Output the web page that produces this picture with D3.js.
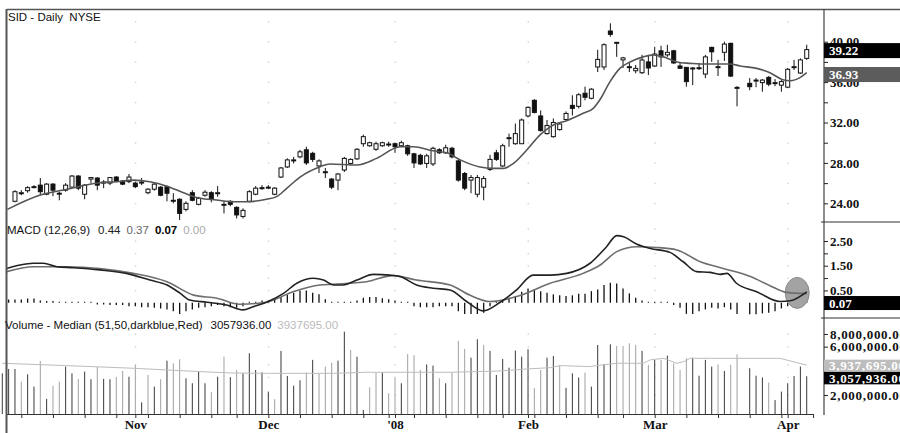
<!DOCTYPE html>
<html><head><meta charset="utf-8">
<script src="https://cdn.jsdelivr.net/npm/d3@7/dist/d3.min.js"></script>
<style>body{margin:0;background:#fff}svg{display:block}text{white-space:pre}</style>
</head><body>
<svg id="c" width="900" height="433"></svg>
<script>
// ---------- categories (trading-day slots; Good Friday slot kept empty) ----------
const firstDay = "2007-10-03", lastDay = "2008-04-04";
const holidays = ["2007-11-22","2007-12-25","2008-01-01","2008-01-21","2008-02-18"];
const monthLabels = ["Nov","Dec","'08","Feb","Mar","Apr"];

// ---------- price (OHLC) ----------
const open  = [null,null,24.2,25.05,25.25,25.65,25.8,24.9,25.9,25.0,25.3,25.6,26.7,24.9,26.4,26.5,26.1,26.0,26.6,26.2,26.15,26.0,26.1,25.05,25.4,25.6,25.65,24.3,24.4,23.4,25.05,23.9,24.8,25.05,25.05,23.9,24.2,23.6,22.7,24.2,24.9,25.55,25.6,24.9,26.6,27.6,28.3,28.6,29.3,28.95,27.7,27.13,26.4,26.3,27.3,27.95,28.4,29.9,29.7,29.35,29.7,29.87,29.9,29.7,29.7,28.9,28.75,27.95,27.9,29.3,29.0,29.45,28.2,26.95,26.3,24.9,25.6,27.36,29.0,27.7,30.5,29.9,29.9,32.65,34.2,32.65,30.9,30.6,31.3,32.3,33.7,33.6,34.9,34.4,37.5,37.5,41.06,39.94,38.2,37.53,37.13,36.93,38.0,37.6,39.1,38.7,39.1,37.6,37.46,37.4,37.43,36.8,39.44,37.53,38.95,39.84,35.48,null,35.88,36.2,35.95,36.47,35.95,35.7,35.5,37.53,36.9,38.35];
const high  = [null,null,25.3,25.3,25.7,25.8,26.5,26.0,26.0,25.15,26.0,26.8,26.8,25.9,26.6,26.6,26.3,26.6,26.7,26.3,26.9,26.15,26.5,25.5,26.0,25.7,25.75,25.0,24.5,24.2,25.3,24.65,25.3,25.2,25.7,24.2,24.3,23.7,23.5,25.3,25.7,25.8,25.8,25.6,27.6,28.45,28.6,29.3,29.6,29.1,28.35,27.5,26.5,27.0,28.6,28.45,29.45,30.8,30.1,30.1,30.1,30.1,30.0,30.2,29.8,29.0,28.9,28.9,29.6,29.45,29.8,29.6,28.35,27.1,26.8,26.8,26.7,28.8,29.3,29.9,30.9,31.9,32.4,33.6,34.3,33.2,32.25,32.4,32.0,33.1,34.7,34.9,35.55,35.4,39.2,39.85,41.82,39.94,38.5,38.0,37.7,38.7,38.7,39.5,39.6,39.7,39.2,37.9,37.5,37.5,37.9,38.7,39.5,38.2,40.0,39.9,35.6,null,36.4,36.4,36.3,36.6,36.3,36.2,37.4,38.2,38.35,39.7];
const low   = [null,null,24.1,24.8,25.05,25.5,24.8,24.8,24.7,24.3,25.15,25.5,25.3,24.4,26.0,25.3,25.5,25.8,26.1,25.8,26.0,25.5,25.8,24.9,25.25,24.7,24.2,24.0,22.35,23.2,24.2,23.8,24.65,24.1,24.65,23.0,23.7,22.5,22.5,24.1,24.8,25.35,25.4,24.8,26.5,27.5,27.95,28.45,27.8,28.1,27.0,26.5,25.4,25.3,27.1,27.8,28.3,29.6,29.6,29.2,29.6,29.6,29.0,29.55,28.7,27.5,27.8,27.5,27.7,28.9,28.9,28.45,26.15,25.3,25.0,24.6,24.3,27.2,28.2,27.6,29.6,29.8,29.9,32.5,32.9,31.1,30.8,30.5,31.2,32.2,32.7,33.4,34.2,34.3,37.0,37.2,40.5,38.5,37.4,37.0,36.87,36.8,36.7,37.5,37.5,38.5,37.8,37.3,35.55,35.7,37.2,36.4,38.0,36.6,38.1,36.5,33.6,null,35.2,35.5,35.05,35.6,35.6,35.05,35.4,37.2,36.8,38.2];
const close = [null,null,25.15,25.05,25.55,25.65,25.15,25.9,25.3,25.0,25.8,26.7,25.5,25.8,26.55,25.8,26.1,26.55,26.2,25.9,26.6,25.65,26.1,25.4,25.9,24.8,25.0,24.3,23.0,24.0,24.3,24.5,25.1,24.4,25.05,23.9,23.9,22.85,23.3,25.15,25.5,25.55,25.6,25.5,27.5,28.3,28.3,29.1,28.0,28.35,28.2,27.13,25.6,26.9,28.45,28.35,29.35,30.6,30.0,29.9,30.0,29.87,29.6,30.0,28.9,28.0,27.9,28.7,29.45,29.0,29.5,28.6,26.3,25.5,26.55,26.55,26.45,28.35,28.35,29.7,30.5,30.9,32.25,33.5,33.0,31.2,31.7,32.0,31.85,32.9,33.4,34.75,34.5,35.3,38.25,39.7,40.73,39.94,38.4,37.53,37.36,38.19,37.4,38.78,38.5,38.95,37.9,37.37,36.05,37.4,37.43,38.5,39.0,37.53,39.77,36.6,35.48,null,35.55,36.2,36.2,35.8,35.95,36.05,37.27,37.53,38.2,39.22];

// moving average (sampled along the line: slot position, value)
const maPos = [0.8,6,10.2,15.4,18.1,20.7,23.3,26,28.6,31.2,33.8,36.5,38.6,41.7,43.3,44.9,47,50.2,51.7,56,59.1,62.8,64.9,68,70.2,72.3,75.4,77.5,79.1,80.7,82.8,84.9,87,89.1,91.7,93.3,94.4,95.9,97.5,99.1,101.2,102.8,104.4,106.5,108.6,110.2,112.3,114.9,116.5,119.1,121.2,123.1,124.4,126,127];
const maVal = [23.4,24.82,25.4,26.04,26.14,26.3,26.14,25.7,25.05,24.5,24.33,24.16,24.16,24.4,24.66,25.48,26.6,27.63,27.9,27.8,28.45,29.6,29.6,29.2,29.0,28.3,27.6,27.46,27.46,27.96,29.28,30.77,31.76,32.18,32.91,33.4,34.3,36.0,37.36,38.0,38.5,38.7,38.5,38.0,37.86,37.79,37.79,37.79,37.6,37.36,36.93,36.27,36.14,36.47,36.93];

// ---------- MACD ----------
const macdPos = [0.7,2.8,4.9,6.5,8.6,11.2,15.4,19.6,23.3,26,28.1,29.6,32.3,35.4,38,39.6,41.7,44.4,46.5,49.1,50.7,52.3,53.8,56,58.6,61.2,62.8,65.4,68,70.7,73.3,75.9,78.6,81.2,83.8,86.5,89.1,92.8,95.4,97,98.1,100.2,102.3,105.4,107.5,109.6,111.7,113.3,114.4,115.9,119.1,122.8,124.4,127];
const macdVal = [1.39,1.53,1.6,1.6,1.46,1.42,1.33,1.19,0.92,0.72,0.38,0.11,0.02,-0.09,-0.29,-0.16,0.02,0.38,0.79,0.99,0.92,0.72,0.72,0.92,1.15,1.12,1.06,0.72,0.59,0.52,0.05,-0.33,0.02,0.52,1.12,1.12,1.19,1.6,2.27,2.72,2.67,2.37,2.2,2.04,1.66,1.26,1.23,1.15,1.19,0.79,0.45,0.05,0.08,0.44];
const signalPos = [0.7,4.9,10.2,15.4,20.7,26,30.2,33.9,37.5,41.7,45.9,50.2,52.3,57.5,61.7,65.4,70.7,73.8,77,81.2,86.5,91.7,94.4,97,100.2,103.3,106.5,110.2,113.8,118.1,121.2,123.8,127];
const signalVal = [1.26,1.46,1.46,1.39,1.19,0.85,0.31,0.18,-0.06,0.02,0.45,0.72,0.75,0.85,1.10,0.92,0.72,0.31,0.05,0.25,0.79,1.19,1.53,2.07,2.27,2.24,2.14,1.66,1.39,1.06,0.69,0.42,0.37];
const histVal = [null,0.13,0.13,0.13,0.17,0.17,0.09,0.07,0.07,0.02,0.01,-0.04,-0.04,-0.04,-0.04,-0.07,-0.07,-0.09,-0.09,-0.09,-0.14,-0.14,-0.18,-0.18,-0.2,-0.23,-0.27,-0.34,-0.45,-0.34,-0.27,-0.2,-0.18,-0.14,-0.09,-0.14,-0.18,-0.2,-0.14,0.04,0.04,0.09,0.09,0.14,0.23,0.31,0.41,0.5,0.5,0.41,0.34,0.14,0.04,0.01,0.04,0.04,0.09,0.2,0.23,0.23,0.18,0.14,0.09,0.04,-0.02,-0.14,-0.18,-0.18,-0.18,-0.14,-0.14,-0.14,-0.34,-0.45,-0.45,-0.45,-0.4,-0.14,0.04,0.09,0.2,0.27,0.45,0.58,0.54,0.47,0.41,0.34,0.3,0.27,0.3,0.36,0.36,0.47,0.54,0.72,0.81,0.78,0.58,0.38,0.2,0.09,0.01,-0.02,-0.03,-0.04,-0.09,-0.2,-0.45,-0.45,-0.34,-0.27,-0.2,-0.23,-0.18,-0.27,-0.45,null,-0.47,-0.47,-0.43,-0.4,-0.34,-0.23,-0.14,-0.07,0.01,0.07];
const macdLegend = ["0.44","0.37","0.07","0.00"];

// ---------- volume (millions) ----------
const volume = [3.27,3.61,3.61,2.71,3.2,2.42,4.33,1.83,2.47,2.71,3.81,3.27,2.88,3.4,2.86,3.81,2.88,2.86,3.01,3.45,3.03,3.96,1.69,3.15,2.42,2.86,4.36,4.11,4.5,2.92,2.61,3.4,2.61,2.13,3.03,4.78,3.0,3.53,3.27,5.16,3.53,3.35,2.16,1.82,5.44,3.08,2.47,2.79,3.33,4.44,3.25,3.81,4.17,4.36,8.43,5.56,4.78,1.42,2.38,3.33,3.33,2.08,2.96,2.61,5.06,4.93,3.53,4.0,3.9,2.92,2.61,3.35,6.82,5.69,4.67,7.09,6.23,5.44,3.15,4.53,3.72,5.48,4.78,5.65,2.33,3.53,4.67,4.85,3.9,2.35,3.27,2.98,3.33,2.42,6.23,4.03,6.32,6.09,6.09,6.47,6.23,5.44,3.96,4.44,4.44,4.89,4.11,3.53,4.6,4.67,3.1,4.44,3.81,4.0,3.45,3.96,5.04,null,3.67,3.1,2.98,2.65,1.78,2.16,2.61,3.08,3.81,3.06];
const medPos = [0,10,20.7,31.2,36,41.7,52.3,57.5,70.7,78.6,82.8,86.5,88.1,92.8,93.8,97,101.2,102.3,104.4,106.5,107.6,108.6,122.8,124.8,127];
const medVal = [4.11,3.9,3.67,3.4,3.3,3.27,3.27,3.35,3.35,3.45,3.61,3.72,3.9,3.81,3.9,4.11,4.11,4.44,4.6,4.11,4.27,4.6,4.6,4.27,3.94];
const volLegend = ["3057936.00","3937695.00"];

// ---------- ticks ----------
const priceTicks = [24,26,28,30,32,34,36,38,40];
const priceLabelTicks = [24,28,32,36,40];
const macdTicks = [0.5,1.0,1.5,2.0,2.5];
const macdLabelTicks = [0.5,1.5,2.5];
const volTicks = [2e6,4e6,6e6,8e6];
const volLabelTicks = [2e6,6e6,8e6];
const lastPrice = 39.22, lastMA = 36.93, lastHist = 0.07, lastVol = 3057936, lastMed = 3937695;

// ---------- build slots ----------
const fmtD = d3.timeFormat("%Y-%m-%d");
const slots = [];
for (let d = new Date(firstDay+"T12:00:00"); fmtD(d) <= lastDay; d.setDate(d.getDate()+1)) {
  const wd = d.getDay();
  if (wd === 0 || wd === 6 || holidays.includes(fmtD(d))) continue;
  slots.push(new Date(d));
}
const N = slots.length;

const svg = d3.select("#c");
const AX = 824;
const x = d3.scaleLinear().domain([0, N]).range([2.3, 2.3 + N*6.334]);
const yP = d3.scaleLinear().domain([22.15, 43.24]).range([222, 9]);
const yM = d3.scaleLinear().domain([-0.617, 3.27]).range([318, 222]);
const yV = d3.scaleLog().domain([1.298e6, 11.5e6]).range([414, 318]);

const serif = "'Liberation Serif','Times New Roman',serif";
const sans = "'Liberation Sans',Arial,sans-serif";

// month / week ticks
const weekTicks = [], monthTicks = [];
slots.forEach((d,i) => {
  if (i === 0) return;
  const p = slots[i-1];
  if (d.getMonth() !== p.getMonth()) monthTicks.push(i);
  if (d.getDay() < p.getDay() || (d - p) > 3*86400000) weekTicks.push(i);
});
weekTicks.push(N);
const allTicks = Array.from(new Set(weekTicks.concat(monthTicks))).sort((a,b)=>a-b);

// faint grid dots at month positions
const grid = svg.append("g").attr("fill","#d6d6d6");
monthTicks.forEach(mi => {
  priceTicks.concat([42]).forEach(v => grid.append("rect").attr("x", x(mi)-0.5).attr("y", yP(v)-0.5).attr("width",1.5).attr("height",1.5));
  [0,0.5,1,1.5,2,2.5,3].forEach(v => grid.append("rect").attr("x", x(mi)-0.5).attr("y", yM(v)-0.5).attr("width",1.5).attr("height",1.5));
  [2e6,3e6,4e6,6e6,8e6].forEach(v => grid.append("rect").attr("x", x(mi)-0.5).attr("y", yV(v)-0.5).attr("width",1.5).attr("height",1.5));
});

// ---------- price panel ----------
const idx = d3.range(N).filter(i => open[i] != null);
const pg = svg.append("g");
pg.selectAll("line.wick").data(idx).join("line")
  .attr("x1", i => x(i)).attr("x2", i => x(i))
  .attr("y1", i => yP(high[i])).attr("y2", i => yP(low[i]))
  .attr("stroke", "#111").attr("stroke-width", 1);
pg.selectAll("rect.body").data(idx).join("rect")
  .attr("x", i => x(i) - 2).attr("width", 4)
  .attr("y", i => yP(Math.max(open[i], close[i])))
  .attr("height", i => Math.max(1, Math.abs(yP(open[i]) - yP(close[i]))))
  .attr("fill", i => close[i] >= open[i] ? "#fff" : "#111")
  .attr("stroke", "#111").attr("stroke-width", 1);

const maLine = d3.line().x((d,k) => x(maPos[k])).y(d => yP(d)).curve(d3.curveMonotoneX);
svg.append("path").attr("d", maLine(maVal)).attr("fill","none").attr("stroke","#555").attr("stroke-width",1.6);

// ---------- MACD panel ----------
const y0 = yM(0);
svg.append("g").selectAll("line").data(d3.range(N).filter(i => histVal[i] != null)).join("line")
  .attr("x1", i => x(i)).attr("x2", i => x(i))
  .attr("y1", y0).attr("y2", i => Math.abs(yM(histVal[i]) - y0) < 1 ? y0 - 1 : yM(histVal[i]))
  .attr("stroke", "#111").attr("stroke-width", 1.3);

svg.append("ellipse").attr("cx", x(125.5)).attr("cy", yM(0.4)).attr("rx", 12).attr("ry", 15.5)
  .attr("fill", "#a3a3a3").attr("stroke", "#8a8a8a").attr("stroke-width", 1);

const sigLine = d3.line().x((d,k) => x(signalPos[k])).y(d => yM(d)).curve(d3.curveMonotoneX);
svg.append("path").attr("d", sigLine(signalVal)).attr("fill","none").attr("stroke","#6e6e6e").attr("stroke-width",1.6);
const macdLine = d3.line().x((d,k) => x(macdPos[k])).y(d => yM(d)).curve(d3.curveMonotoneX);
svg.append("path").attr("d", macdLine(macdVal)).attr("fill","none").attr("stroke","#222").attr("stroke-width",1.6);

// ---------- volume panel ----------
const vIdx = d3.range(N).filter(i => volume[i] != null);
// previous available close, to tell up-days from down-days
const prevClose = i => { for (let k = i-1; k >= 0; k--) if (close[k] != null) return close[k]; return null; };
svg.append("g").selectAll("line").data(vIdx).join("line")
  .attr("x1", i => x(i)).attr("x2", i => x(i))
  .attr("y1", 414).attr("y2", i => yV(volume[i]*1e6))
  .attr("stroke", i => {
    const pc = prevClose(i);
    return (close[i] != null && pc != null && close[i] < pc) ? "#a0a0a0" : "#383838";
  })
  .attr("stroke-width", 1);
const medLine = d3.line().x((d,k) => x(medPos[k])).y(d => yV(d*1e6));
svg.append("path").attr("d", medLine(medVal)).attr("fill","none").attr("stroke","#bdbdbd").attr("stroke-width",1);

// ---------- frame ----------
svg.append("line").attr("x1",7).attr("x2",900).attr("y1",9.5).attr("y2",9.5).attr("stroke","#555").attr("stroke-width",1.4);
svg.append("line").attr("x1",6.5).attr("x2",6.5).attr("y1",9).attr("y2",433).attr("stroke","#555").attr("stroke-width",2);
svg.append("line").attr("x1",AX).attr("x2",AX).attr("y1",9).attr("y2",415).attr("stroke","#444").attr("stroke-width",1.2);
[222,318].forEach(yy => svg.append("line").attr("x1",AX-3).attr("x2",900).attr("y1",yy).attr("y2",yy).attr("stroke","#333").attr("stroke-width",1));

// ---------- right axes ----------
function rightAxis(scale, ticks, labelTicks, fmt, ls) {
  const g = svg.append("g").attr("transform", `translate(${AX},0)`)
    .call(d3.axisRight(scale).tickValues(ticks).tickSize(4).tickPadding(2)
      .tickFormat(d => labelTicks.includes(d) ? fmt(d) : ""));
  g.select(".domain").remove();
  g.selectAll("line").attr("stroke","#222");
  g.selectAll("text").attr("font-family", serif).attr("font-weight","bold").attr("font-size", 13)
    .attr("letter-spacing", ls).attr("fill","#111");
  return g;
}
rightAxis(yP, priceTicks, priceLabelTicks, d => d.toFixed(2), 0);
rightAxis(yM, macdTicks, macdLabelTicks, d => d.toFixed(2), 0);
rightAxis(yV, volTicks, volLabelTicks, d3.format(",.2f"), 0.7);

function box(yc, h, fill, text, tcol, ls) {
  svg.append("rect").attr("x", AX).attr("y", yc - h/2).attr("width", 900-AX).attr("height", h).attr("fill", fill);
  svg.append("text").attr("x", AX+5).attr("y", yc).attr("dy","0.36em").text(text)
    .attr("font-family", serif).attr("font-weight","bold").attr("font-size",13)
    .attr("letter-spacing", ls).attr("fill", tcol);
}
box(yP(lastPrice)+1, 15, "#000", lastPrice.toFixed(2), "#fff", 0);
box(yP(lastMA)+1.8, 15, "#5c5c5c", lastMA.toFixed(2), "#fff", 0);
box(yM(lastHist)+2, 14, "#000", lastHist.toFixed(2), "#fff", 0);
box(yV(lastMed)+0.5, 12, "#bdbdbd", d3.format(",.2f")(lastMed), "#fff", 0.7);
box(yV(lastVol)+1.8, 12.5, "#000", d3.format(",.2f")(lastVol), "#fff", 0.7);

// ---------- bottom axis ----------
const monthName = new Map(monthTicks.map((m,k) => [m, monthLabels[k]]));
const bx = svg.append("g").attr("transform","translate(0,414)")
  .call(d3.axisBottom(x).tickValues(allTicks).tickSize(4).tickPadding(2)
    .tickFormat(i => monthName.get(i) || ""));
bx.select(".domain").attr("d", `M7,0.5H${x(N)}`).attr("stroke","#333");
bx.selectAll("line").attr("stroke","#333");
bx.selectAll("text").attr("font-family", serif).attr("font-weight","bold").attr("font-size",13).attr("fill","#111");

// ---------- legends ----------
svg.append("text").attr("x",8).attr("y",20.5).text("SID - Daily  NYSE")
  .attr("font-family",sans).attr("font-size",11.5).attr("fill","#111");
const ml = svg.append("text").attr("x",7).attr("y",234).attr("font-family",sans).attr("font-size",11.5).attr("fill","#111");
ml.append("tspan").text("MACD (12,26,9)");
ml.append("tspan").attr("dx",8).text(macdLegend[0]).attr("fill","#222");
ml.append("tspan").attr("dx",6).text(macdLegend[1]).attr("fill","#666");
ml.append("tspan").attr("dx",6).text(macdLegend[2]).attr("fill","#000").attr("font-weight","bold");
ml.append("tspan").attr("dx",6).text(macdLegend[3]).attr("fill","#aaa");
const vl = svg.append("text").attr("x",5).attr("y",328.5).attr("font-family",sans).attr("font-size",11.5).attr("fill","#111");
vl.append("tspan").text("Volume - Median (51,50,darkblue,Red)");
vl.append("tspan").attr("dx",8).text(volLegend[0]).attr("fill","#111");
vl.append("tspan").attr("dx",6).text(volLegend[1]).attr("fill","#bbb");
</script>
</body></html>
